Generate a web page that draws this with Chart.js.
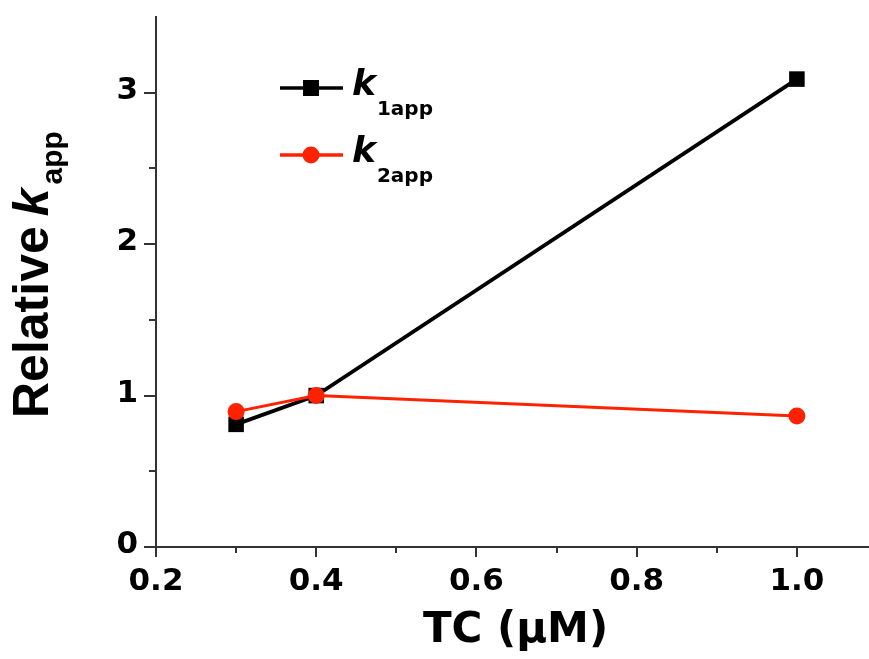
<!DOCTYPE html>
<html><head><meta charset="utf-8">
<script src="https://cdn.jsdelivr.net/npm/chart.js@4.4.0/dist/chart.umd.min.js"></script>
<style>html,body{margin:0;padding:0;background:#fff;overflow:hidden}#wrap{width:869px;height:659px;position:relative}</style>
</head><body><div id="wrap"><canvas id="c" width="869" height="659"></canvas></div>
<script>
// ---- data ----
const tcValues = [0.3, 0.4, 1.0];
const k1app = [0.81, 1.0, 3.09];
const k2app = [0.894, 1.0, 0.865];
const seriesMain = ['k', 'k'];
const seriesSub = ['1app', '2app'];
const xTickLabels = ['0.2', '0.4', '0.6', '0.8', '1.0'];
const yTickLabels = ['0', '1', '2', '3'];
const xMinorTicks = [0.3, 0.5, 0.7, 0.9];
const yMinorTicks = [0.5, 1.5, 2.5];
const xTitle = 'TC (\u03BCM)';
const yTitleMain = 'Relative';
const yTitleItalic = 'k';
const yTitleSub = 'app';

const FONT = "'DejaVu Sans', sans-serif";
const ARIAL = "'Liberation Sans', Arial, sans-serif";
const AX = '#333';
const BLACK = '#000000';
const RED = '#ff2200';

const pts = (xs, ys) => xs.map((x, i) => ({x: x, y: ys[i]}));

const extras = {
  id: 'extras',
  afterDraw(chart) {
    const ctx = chart.ctx, xs = chart.scales.x, ys = chart.scales.y, ca = chart.chartArea;
    ctx.save();
    // minor ticks
    ctx.strokeStyle = AX; ctx.lineWidth = 2;
    xMinorTicks.forEach(v => {
      const px = Math.round(xs.getPixelForValue(v));
      ctx.beginPath(); ctx.moveTo(px, ca.bottom); ctx.lineTo(px, ca.bottom + 6); ctx.stroke();
    });
    yMinorTicks.forEach(v => {
      const py = Math.round(ys.getPixelForValue(v));
      ctx.beginPath(); ctx.moveTo(ca.left, py); ctx.lineTo(ca.left - 7, py); ctx.stroke();
    });
    // x title
    ctx.fillStyle = '#000';
    ctx.font = "bold 42px " + FONT;
    ctx.textAlign = 'center'; ctx.textBaseline = 'alphabetic';
    ctx.fillText(xTitle, (ca.left + ca.right) / 2 + 3, 642);
    // y title (rotated)
    ctx.save();
    ctx.translate(48, 418);
    ctx.rotate(-Math.PI / 2);
    ctx.textAlign = 'left';
    ctx.font = "bold 50px " + ARIAL;
    ctx.fillText(yTitleMain, 0, 0);
    let w = ctx.measureText(yTitleMain).width + 10;
    ctx.font = "italic bold 50px " + ARIAL;
    ctx.fillText(yTitleItalic, w, 0);
    w += ctx.measureText(yTitleItalic).width + 4;
    ctx.font = "bold 30px " + ARIAL;
    ctx.fillText(yTitleSub, w, 14);
    ctx.restore();
    // legend
    const ds = chart.data.datasets;
    const lx0 = ca.left + 124, lx1 = ca.left + 187, mx = ca.left + 155;
    [88, 155].forEach((ly, i) => {
      const d = ds[i === 0 ? 1 : 0];
      ctx.strokeStyle = d.borderColor; ctx.lineWidth = 3.5;
      ctx.beginPath(); ctx.moveTo(lx0, ly); ctx.lineTo(lx1, ly); ctx.stroke();
      ctx.fillStyle = d.borderColor;
      if (d.pointStyle === 'rect') {
        ctx.fillRect(mx - 8, ly - 8, 16, 16);
      } else {
        ctx.beginPath(); ctx.arc(mx, ly, 8.5, 0, Math.PI * 2); ctx.fill();
      }
      ctx.fillStyle = '#000';
      ctx.textAlign = 'left';
      ctx.font = "italic bold 36px " + FONT;
      ctx.fillText(seriesMain[i], lx1 + 9, ly + 7);
      const kw = ctx.measureText(seriesMain[i]).width;
      ctx.font = "bold 20px " + FONT;
      ctx.fillText(seriesSub[i], lx1 + 9 + kw + 1, ly + 27);
    });
    ctx.restore();
  }
};

new Chart(document.getElementById('c'), {
  type: 'line',
  data: {
    datasets: [
      { label: seriesMain[1] + seriesSub[1], data: pts(tcValues, k2app), borderColor: RED, backgroundColor: RED,
        borderWidth: 3, pointStyle: 'circle', pointRadius: 8.5, pointHoverRadius: 8.5, pointBorderWidth: 0, order: 0 },
      { label: seriesMain[0] + seriesSub[0], data: pts(tcValues, k1app), borderColor: BLACK, backgroundColor: BLACK,
        borderWidth: 3.8, pointStyle: 'rect', pointRadius: 11, pointHoverRadius: 11, pointBorderWidth: 0, order: 1 }
    ]
  },
  options: {
    responsive: false, animation: false, devicePixelRatio: 1,
    layout: { autoPadding: false, padding: { top: 17, right: 0, left: 0, bottom: 0 } },
    plugins: { legend: { display: false }, tooltip: { enabled: false } },
    scales: {
      x: {
        type: 'linear', min: 0.2, max: 1.09,
        afterFit: s => { s.height = 112; s.paddingLeft = 0; s.paddingRight = 0; s.paddingTop = 0; s.paddingBottom = 0; },
        border: { color: AX, width: 2 },
        grid: { drawOnChartArea: false, tickLength: 10, lineWidth: 2,
          tickColor: c => (c.tick && xTickLabels.includes(c.tick.value.toFixed(1))) ? AX : 'rgba(0,0,0,0)' },
        ticks: { stepSize: 0.1, includeBounds: false, autoSkip: false, maxRotation: 0, padding: 6, color: '#000',
          font: { family: FONT, size: 31, weight: 'bold' },
          callback: v => { const s = Number(v).toFixed(1); return xTickLabels.includes(s) ? s : ''; } }
      },
      y: {
        type: 'linear', min: 0, max: 3.5,
        afterFit: s => { s.width = 156; s.paddingLeft = 0; s.paddingRight = 0; s.paddingTop = 0; s.paddingBottom = 0; },
        border: { color: AX, width: 2 },
        grid: { drawOnChartArea: false, tickLength: 12, lineWidth: 2,
          tickColor: c => (c.tick && yTickLabels.includes(String(c.tick.value))) ? AX : 'rgba(0,0,0,0)' },
        ticks: { stepSize: 0.5, includeBounds: false, autoSkip: false, padding: 6, labelOffset: -2, color: '#000',
          font: { family: FONT, size: 31, weight: 'bold' },
          callback: v => { const s = String(v); return yTickLabels.includes(s) ? s : ''; } }
      }
    }
  },
  plugins: [extras]
});
</script></body></html>
